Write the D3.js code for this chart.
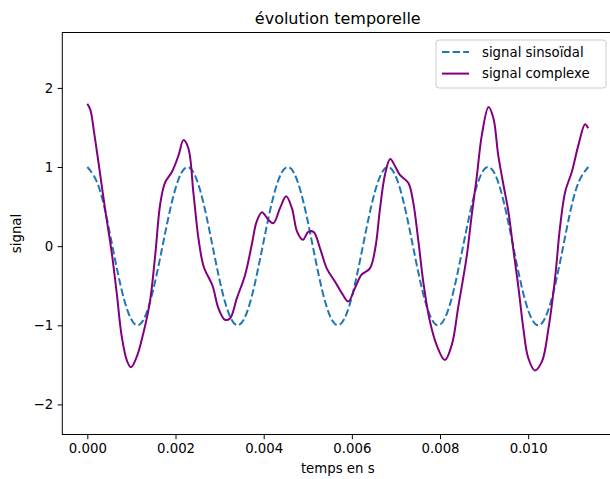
<!DOCTYPE html>
<html>
<head>
<meta charset="utf-8">
<script src="https://cdn.jsdelivr.net/npm/d3@7"></script>
<style>
  body { margin: 0; background: #fff; }
  svg { display: block; font-family: 'DejaVu Sans', sans-serif; }
</style>
</head>
<body>
<div class="chart"></div>
<script>
// sinusoid, sampled every eighth of a period (440 Hz)
const sinTime = [
  0, 0.000284, 0.000568, 0.000852, 0.001136, 0.001420, 0.001705, 0.001989,
  0.002273, 0.002557, 0.002841, 0.003125, 0.003409, 0.003693, 0.003977, 0.004261,
  0.004545, 0.004830, 0.005114, 0.005398, 0.005682, 0.005966, 0.006250, 0.006534,
  0.006818, 0.007102, 0.007386, 0.007670, 0.007955, 0.008239, 0.008523, 0.008807,
  0.009091, 0.009375, 0.009659, 0.009943, 0.010227, 0.010511, 0.010795, 0.011080,
  0.011364
];
const sinValues = [
  1, 0.71, 0, -0.71, -1, -0.71, 0, 0.71,
  1, 0.71, 0, -0.71, -1, -0.71, 0, 0.71,
  1, 0.71, 0, -0.71, -1, -0.71, 0, 0.71,
  1, 0.71, 0, -0.71, -1, -0.71, 0, 0.71,
  1, 0.71, 0, -0.71, -1, -0.71, 0, 0.71,
  1
];

// complex signal
const cplxTime = [
  0, 0.00007, 0.00015, 0.00025, 0.00040, 0.00056, 0.00067, 0.00078, 0.00090, 0.00099, 0.00112,
  0.00127, 0.00142, 0.00154, 0.00165, 0.00176, 0.00192, 0.00207, 0.00218, 0.00229, 0.00241,
  0.00252, 0.00264, 0.00284, 0.00297, 0.00312, 0.00324, 0.00339, 0.00358, 0.00373, 0.00384,
  0.00396, 0.00411, 0.00422, 0.00437, 0.00451, 0.00464, 0.00476, 0.00489, 0.00501, 0.00513,
  0.00528, 0.00543, 0.00562, 0.00578, 0.00592, 0.00607, 0.00622, 0.00641, 0.00653, 0.00664,
  0.00675, 0.00687, 0.00698, 0.00709, 0.00728, 0.00739, 0.00751, 0.00762, 0.00777, 0.00793,
  0.00811, 0.00827, 0.00841, 0.00861, 0.00872, 0.00883, 0.00895, 0.00910, 0.00921, 0.00932,
  0.00944, 0.00955, 0.00966, 0.00978, 0.00989, 0.01000, 0.01015, 0.01031, 0.01046, 0.01061,
  0.01072, 0.01084, 0.01099, 0.01114, 0.01129, 0.01136
];
const cplxValues = [
  1.80, 1.72, 1.45, 1.07, 0.48, -0.11, -0.61, -1.14, -1.45, -1.53, -1.40,
  -1.10, -0.70, -0.11, 0.52, 0.80, 0.94, 1.15, 1.34, 1.24, 0.65,
  0.10, -0.26, -0.50, -0.78, -0.93, -0.91, -0.66, -0.36, 0.02, 0.31,
  0.43, 0.33, 0.29, 0.48, 0.63, 0.48, 0.18, 0.08, 0.18, 0.18,
  -0.03, -0.28, -0.45, -0.60, -0.70, -0.53, -0.36, -0.28, -0.03, 0.48,
  0.90, 1.10, 1.01, 0.90, 0.80, 0.56, 0.06, -0.45, -0.95, -1.26,
  -1.44, -1.24, -0.78, -0.11, 0.40, 0.86, 1.41, 1.76, 1.62, 1.15,
  0.77, 0.44, -0.03, -0.53, -1.04, -1.41, -1.57, -1.46, -1.04, -0.40,
  0.23, 0.69, 0.94, 1.28, 1.54, 1.49
];

const xTicks = [0, 0.002, 0.004, 0.006, 0.008, 0.010];
const yTicks = [-2, -1, 0, 1, 2];
const seriesNames = ['signal sinsoïdal', 'signal complexe'];

const width = 610;
const height = 479;
const plotLeft = 62.3;
const plotRight = 613.2;
const plotTop = 32.5;
const plotBottom = 434.5;
const fontSize = 13.3;

const svg = d3
  .select('.chart')
  .append('svg')
  .attr('width', width)
  .attr('height', height);

const x = d3.scaleLinear().domain([-0.000568, 0.011928]).range([plotLeft, plotRight]);
const y = d3.scaleLinear().domain([-2.38, 2.70]).range([plotBottom, plotTop]);

const sinData = sinTime.map((t, i) => [t, sinValues[i]]);
const cplxData = cplxTime.map((t, i) => [t, cplxValues[i]]);

// axes
const xAxis = svg
  .append('g')
  .attr('transform', `translate(0,${plotBottom})`)
  .call(
    d3.axisBottom(x)
      .tickValues(xTicks)
      .tickFormat(d3.format('.3f'))
      .tickSize(4.7)
      .tickPadding(4)
  );
const yAxis = svg
  .append('g')
  .attr('transform', `translate(${plotLeft},0)`)
  .call(
    d3.axisLeft(y)
      .tickValues(yTicks)
      .tickFormat(d => (d < 0 ? '\u2212' + Math.abs(d) : d))
      .tickSize(4.7)
      .tickPadding(4.5)
  );

[xAxis, yAxis].forEach(ax => {
  ax.select('.domain').remove();
  ax.selectAll('.tick line').attr('stroke', '#000').attr('stroke-width', 1);
  ax.selectAll('.tick text')
    .attr('fill', '#000')
    .style('font-size', fontSize + 'px')
    .style('font-family', 'DejaVu Sans');
});

// lines
svg
  .append('defs')
  .append('clipPath')
  .attr('id', 'plotClip')
  .append('rect')
  .attr('x', plotLeft)
  .attr('y', plotTop)
  .attr('width', plotRight - plotLeft)
  .attr('height', plotBottom - plotTop);

const plot = svg.append('g').attr('clip-path', 'url(#plotClip)');

plot
  .append('path')
  .datum(sinData)
  .attr('fill', 'none')
  .attr('stroke', '#1f77b4')
  .attr('stroke-width', 2)
  .attr('stroke-dasharray', '7.4,3.2')
  .attr('d', d3.line().x(d => x(d[0])).y(d => y(d[1])).curve(d3.curveNatural));

plot
  .append('path')
  .datum(cplxData)
  .attr('fill', 'none')
  .attr('stroke', 'purple')
  .attr('stroke-width', 2)
  .attr('stroke-linejoin', 'round')
  .attr('d', d3.line().x(d => x(d[0])).y(d => y(d[1])).curve(d3.curveCatmullRom.alpha(0.5)));

// frame
svg
  .append('rect')
  .attr('x', plotLeft)
  .attr('y', plotTop)
  .attr('width', plotRight - plotLeft)
  .attr('height', plotBottom - plotTop)
  .attr('fill', 'none')
  .attr('stroke', '#000')
  .attr('stroke-width', 1);

// titles
svg
  .append('text')
  .attr('x', (plotLeft + plotRight) / 2)
  .attr('y', 24)
  .attr('text-anchor', 'middle')
  .style('font-size', '16px')
  .text('évolution temporelle');

svg
  .append('text')
  .attr('x', (plotLeft + plotRight) / 2)
  .attr('y', 473)
  .attr('text-anchor', 'middle')
  .style('font-size', fontSize + 'px')
  .text('temps en s');

svg
  .append('text')
  .attr('transform', `translate(21,${(plotTop + plotBottom) / 2}) rotate(-90)`)
  .attr('text-anchor', 'middle')
  .style('font-size', fontSize + 'px')
  .text('signal');

// legend
const legend = svg.append('g').attr('transform', 'translate(436,40)');

legend
  .append('rect')
  .attr('width', 170)
  .attr('height', 48)
  .attr('rx', 3)
  .attr('fill', '#fff')
  .attr('fill-opacity', 0.8)
  .attr('stroke', '#ccc')
  .attr('stroke-width', 1);

const rows = legend
  .selectAll('.legendRow')
  .data(seriesNames)
  .enter()
  .append('g')
  .attr('transform', (d, i) => `translate(0,${12 + i * 21.6})`);

rows
  .append('line')
  .attr('x1', 6)
  .attr('x2', 33)
  .attr('stroke', (d, i) => (i === 0 ? '#1f77b4' : 'purple'))
  .attr('stroke-width', 2)
  .attr('stroke-dasharray', (d, i) => (i === 0 ? '7.4,3.2' : null));

rows
  .append('text')
  .attr('x', 46)
  .attr('dy', '0.35em')
  .style('font-size', fontSize + 'px')
  .text(d => d);
</script>
</body>
</html>
